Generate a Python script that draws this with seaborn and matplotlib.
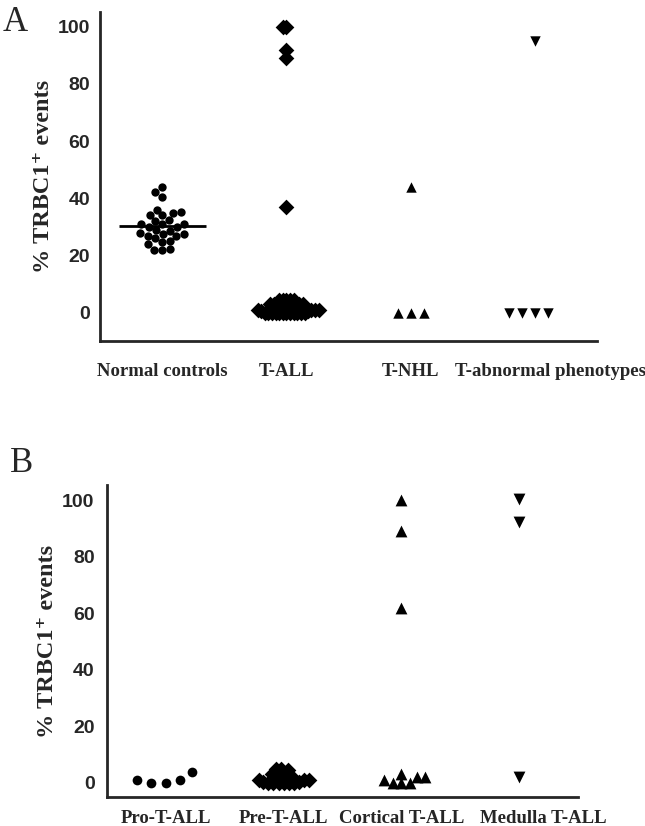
import numpy as np
import pandas as pd
import seaborn as sns
import matplotlib.pyplot as plt
from matplotlib.transforms import ScaledTranslation

# panel A
cats_a = ['Normal controls', 'T-ALL', 'T-NHL', 'T-abnormal phenotypes']
normal = [44, 42, 40.5, 36, 35, 34.8, 34, 34, 32.5, 32, 31, 31, 30.9, 30, 30,
          29, 28.5, 27.8, 27.6, 27.4, 26.7, 26.7, 26.2, 25, 24.7, 23.9, 22.3, 22, 21.8]
t_all = [100, 100, 92, 89, 37,
         4.5, 4.5, 4.5, 4.5, 4.5, 3, 3, 3, 3, 3, 3, 2, 2, 2, 2, 2, 1.5, 1.5,
         1, 1, 1, 1, 0.5, 0.5, 0, 0, 0, 0, 0, 0, 0, 0, 0, 0, 0, 0]
t_nhl = [44, 0, 0, 0]
t_abn = [95, 0, 0, 0, 0]

# panel B
cats_b = ['Pro-T-ALL', 'Pre-T-ALL', 'Cortical T-ALL', 'Medulla T-ALL']
pro = [4, 1, 0, 0, 1]
pre = [5, 5, 4.5, 3.5, 3, 2.5, 2, 2, 1.5, 1, 1, 1, 0.5, 0.5, 0, 0, 0, 0, 0, 0]
cortical = [100, 89, 62, 3, 2, 2, 1, 0, 0, 0]
medulla = [100.5, 92.5, 2.2]

markers = ['o', 'D', '^', 'v']

serif = ['Liberation Serif', 'DejaVu Serif']
sans = 'Liberation Sans'


def long_df(cats, groups):
    rows = []
    for c, vals in zip(cats, groups):
        for v in vals:
            rows.append({'group': c, 'value': v})
    return pd.DataFrame(rows)


def panel(ax, cats, groups, ylim, ytick_len, layout_sizes):
    # swarm layout is computed with layout_sizes, markers get redrawn larger later
    df = long_df(cats, groups)
    swarms = []
    for c, m, s in zip(cats, markers, layout_sizes):
        n = len(ax.collections)
        sns.swarmplot(data=df[df['group'] == c], x='group', y='value', order=cats,
                      marker=m, color='black', size=s, linewidth=0, ax=ax)
        new = [coll for coll in ax.collections[n:] if len(coll.get_offsets()) > 0]
        swarms.append(new[0])
    ax.set_xlim(-0.5, 3.5)
    ax.set_ylim(*ylim)
    ax.set_yticks([0, 20, 40, 60, 80, 100])
    sns.despine(ax=ax)
    for side in ['left', 'bottom']:
        ax.spines[side].set_linewidth(2)
    ax.tick_params(axis='y', length=ytick_len, width=2, pad=3 if ytick_len else 7)
    ax.tick_params(axis='x', length=7, width=2, pad=9)
    for lab in ax.get_yticklabels():
        lab.set_fontfamily(sans)
        lab.set_fontweight('bold')
        lab.set_fontsize(14)
    for lab in ax.get_xticklabels():
        lab.set_fontfamily(serif)
        lab.set_fontweight('bold')
        lab.set_fontsize(13.5)
    ax.set_xlabel('')
    ax.set_ylabel('% TRBC1\u207a events', family=serif, fontweight='bold',
                  fontsize=17.5, labelpad=3)
    return swarms


def freeze_and_resize(fig, swarms, draw_sizes):
    fig.canvas.draw()
    for coll, s in zip(swarms, draw_sizes):
        if 'draw' in coll.__dict__:
            del coll.draw
        coll.set_sizes([s ** 2])


sns.set_style('white')
fig = plt.figure(figsize=(6.45, 8.26), dpi=100)

ax_a = fig.add_axes([0.155, 0.587, 0.771, 0.398])
swarms_a = panel(ax_a, cats_a, [normal, t_all, t_nhl, t_abn], (-10, 105), 0,
                 [5.5, 2.5, 9, 9])
ax_a.hlines(np.mean(normal), -0.35, 0.35, color='black', linewidth=2)

ax_b = fig.add_axes([0.166, 0.035, 0.730, 0.378])
swarms_b = panel(ax_b, cats_b, [pro, pre, cortical, medulla], (-5, 105.5), 6,
                 [10, 3.5, 6, 8])
ax_b.tick_params(axis='x', pad=2)

# labels nudged right like in the original figure
lab = ax_a.get_xticklabels()[3]
lab.set_transform(lab.get_transform() + ScaledTranslation(0.15, 0, fig.dpi_scale_trans))
lab = ax_b.get_xticklabels()[3]
lab.set_transform(lab.get_transform() + ScaledTranslation(0.24, 0, fig.dpi_scale_trans))

fig.text(0.004, 0.963, 'A', family=serif, fontsize=25)
fig.text(0.015, 0.428, 'B', family=serif, fontsize=25)

freeze_and_resize(fig, swarms_a, [6, 8, 7.5, 7.5])
freeze_and_resize(fig, swarms_b, [7, 8, 8.5, 8.5])

fig.savefig('out.png', dpi=100)
